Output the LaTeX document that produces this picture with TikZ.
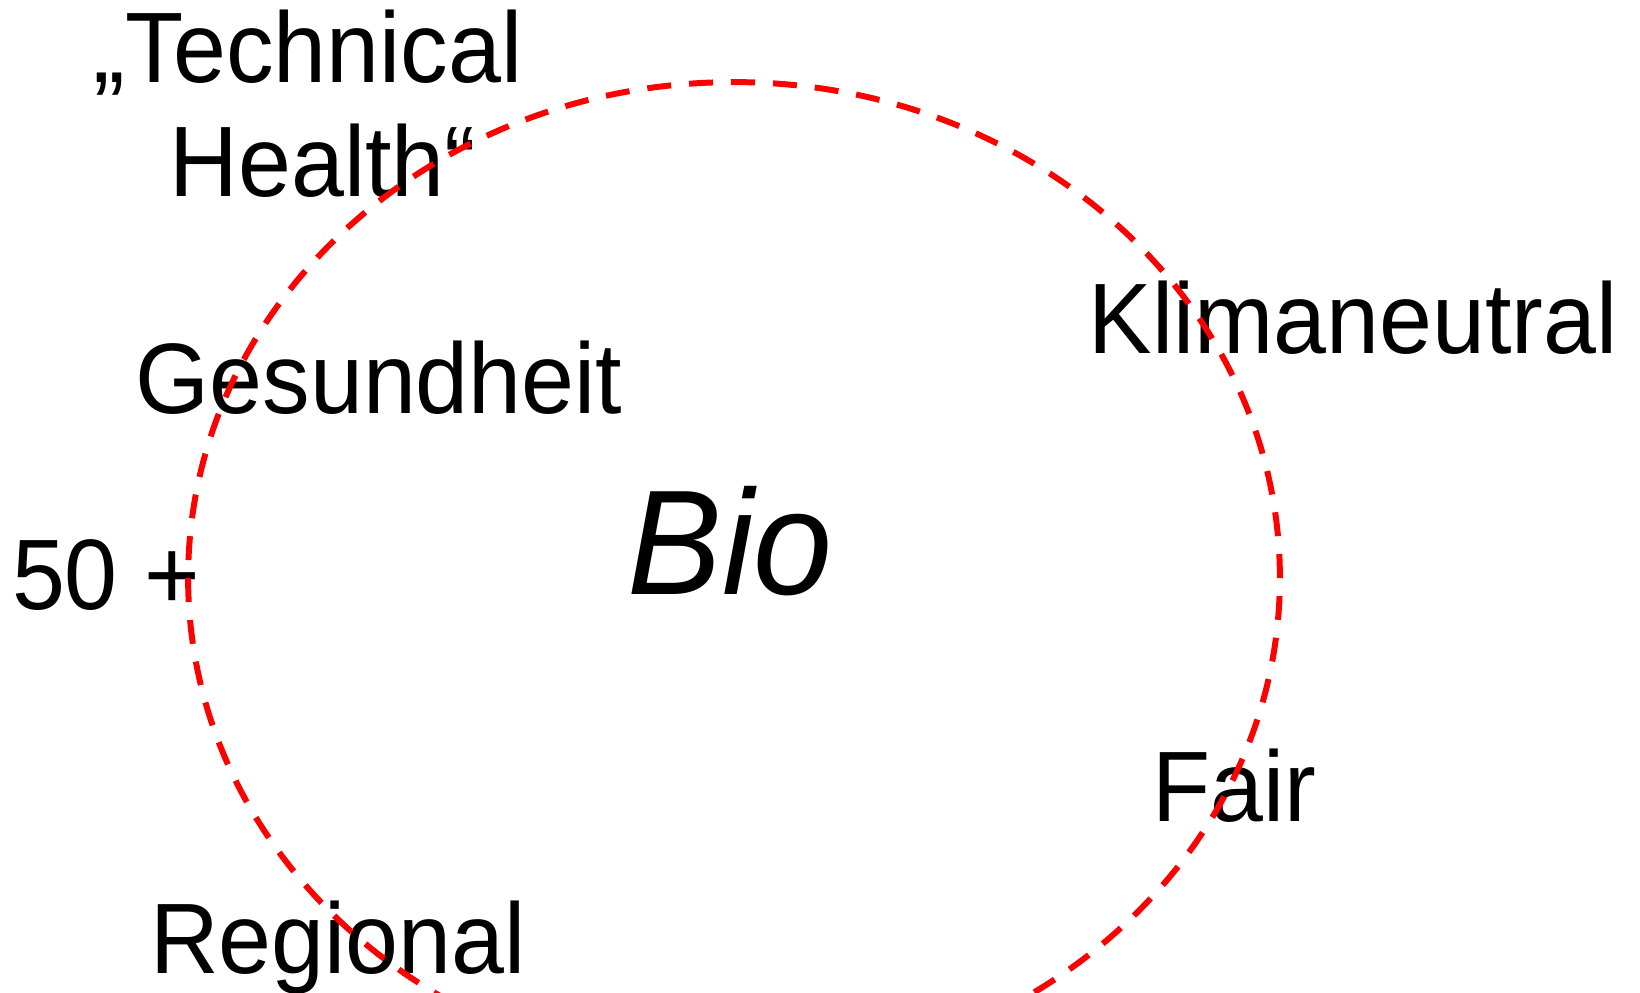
\documentclass[tikz,border=0pt]{standalone}
\usepackage{fontspec}
\setmainfont{Liberation Sans}[FakeStretch=0.95]
\usepackage{tikz}

\begin{document}
\begin{tikzpicture}[x=0.02cm, y=-0.02cm,
word/.style={anchor=base, inner sep=0pt, font=\fontsize{57}{68}\selectfont},
big word/.style={anchor=base, inner sep=0pt, font=\fontsize{85}{102}\selectfont\itshape},
ring/.style={draw=red, line width=3.4pt, dash pattern=on 0.48cm off 0.36cm}]
\useasboundingbox (0,0) rectangle (1640,992);
\node[word] (technical) at (308,82) {„Technical};
\node[word] (health) at (323,196) {Health“};
\node[word] (gesundheit) at (379,413) {Gesundheit};
\node[word] (fifty) at (106,609) {50 +};
\node[word] (regional) at (338,973) {Regional};
\node[word] (klima) at (1353,353) {Klimaneutral};
\node[word] (fair) at (1234,821) {Fair};
\node[big word] (bio) at (730,594) {Bio};
\coordinate (mid) at (734,578);
\draw[ring] (mid) ellipse [x radius=10.92cm, y radius=9.92cm];
\end{tikzpicture}
\end{document}
